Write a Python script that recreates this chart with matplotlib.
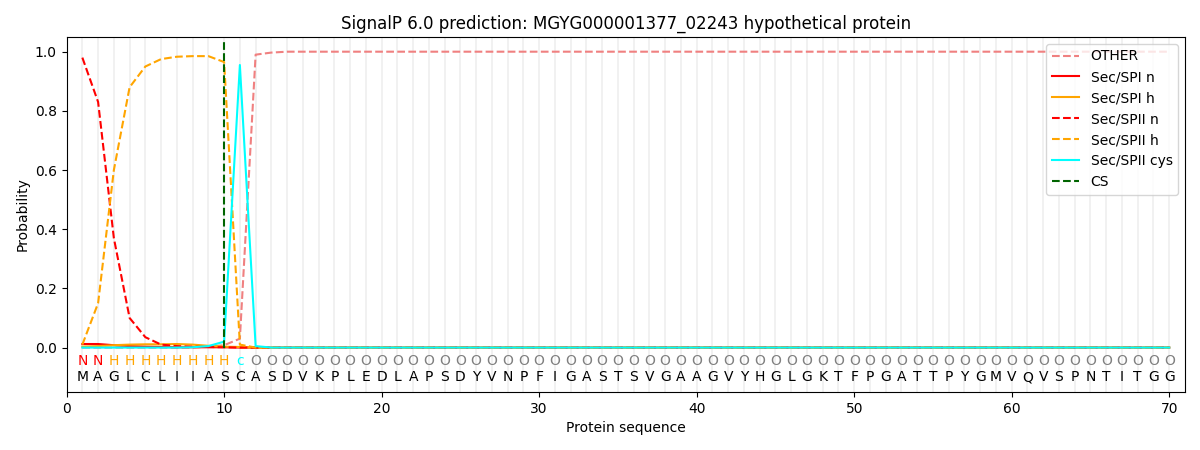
import numpy as np
import matplotlib
matplotlib.use("Agg")
import matplotlib.pyplot as plt

# protein sequence and per-residue predicted labels
sequence = list("MAGLCLIIASCASDVKPLEDLAPSDYVNPFIGASTSVGAAGVYHGLGKTFPGATTPYGMVQVSPNTITGG")
labels = list("NNHHHHHHHHc") + ["O"] * 59

n_pos = len(sequence)
pos = np.arange(1, n_pos + 1)

# probabilities (first residues, rest ~0 / ~1)
other_head = [0.0, 0.0, 0.0, 0.0, 0.0, 0.0, 0.0, 0.0, 0.003, 0.008, 0.03, 0.99, 0.997]
spi_n_head = [0.012, 0.012, 0.008, 0.005, 0.003, 0.002, 0.001, 0.001, 0.001, 0.001, 0.0]
spi_h_head = [0.003, 0.005, 0.008, 0.01, 0.011, 0.011, 0.012, 0.01, 0.006, 0.003, 0.002]
spii_n_head = [0.98, 0.83, 0.37, 0.10, 0.035, 0.01, 0.005, 0.003, 0.002, 0.001, 0.0]
spii_h_head = [0.01, 0.15, 0.60, 0.88, 0.95, 0.975, 0.983, 0.985, 0.985, 0.965, 0.01, 0.0]
spii_cys_head = [0.0, 0.0, 0.0, 0.0, 0.0, 0.0, 0.0, 0.001, 0.005, 0.02, 0.955, 0.005]
cs_pos = 10


def pad(head, fill):
    return np.array(head + [fill] * (n_pos - len(head)))


other = pad(other_head, 1.0)
spi_n = pad(spi_n_head, 0.0)
spi_h = pad(spi_h_head, 0.0)
spii_n = pad(spii_n_head, 0.0)
spii_h = pad(spii_h_head, 0.0)
spii_cys = pad(spii_cys_head, 0.0)

label_colors = {"N": "red", "H": "orange", "c": "cyan", "O": "gray"}

fig = plt.figure(figsize=(12, 4.5), dpi=100)
ax = fig.add_axes([0.0555, 0.129, 0.932, 0.789])

for p in pos:
    ax.axvline(p, color="#e8e8e8", linewidth=1.2, alpha=0.7, zorder=0)

ax.plot(pos, other, color="lightcoral", linestyle="--", label="OTHER")
ax.plot(pos, spi_n, color="red", label="Sec/SPI n")
ax.plot(pos, spi_h, color="orange", label="Sec/SPI h")
ax.plot(pos, spii_n, color="red", linestyle="--", label="Sec/SPII n")
ax.plot(pos, spii_h, color="orange", linestyle="--", label="Sec/SPII h")
ax.plot(pos, spii_cys, color="cyan", label="Sec/SPII cys")
ax.plot([cs_pos, cs_pos], [0, 1.035], color="darkgreen", linestyle="--", label="CS")

for p, lab, aa in zip(pos, labels, sequence):
    ax.text(p, -0.045, lab, color=label_colors[lab], ha="center", va="center", fontsize=10)
    ax.text(p, -0.1, aa, color="black", ha="center", va="center", fontsize=10)

ax.set_xlim(0, 71)
ax.set_ylim(-0.15, 1.05)
ax.set_xlabel("Protein sequence")
ax.set_ylabel("Probability")
ax.set_title("SignalP 6.0 prediction: MGYG000001377_02243 hypothetical protein")
ax.legend(loc="upper right")

fig.savefig("out.png")
